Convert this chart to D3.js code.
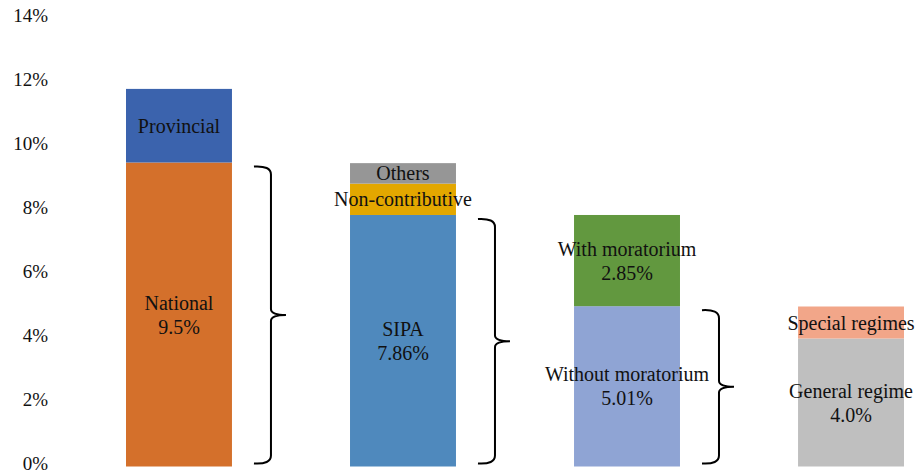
<!DOCTYPE html>
<html>
<head>
<meta charset="utf-8">
<script src="https://cdn.jsdelivr.net/npm/d3@7"></script>
<style>
  html, body { margin: 0; padding: 0; background: #fff; }
  svg text { font-family: "Liberation Serif", "Tinos", "DejaVu Serif", serif; fill: #111; }
</style>
</head>
<body>
<svg id="chart" width="915" height="474"></svg>
<script>
// Stacked bars: each bar breaks down the base segment of the previous one
const categories = ["Total", "National", "SIPA", "Pensions"];
const segmentNames = [
  ["National", "Provincial"],
  ["SIPA", "Non-contributive", "Others"],
  ["Without moratorium", "With moratorium"],
  ["General regime", "Special regimes"]
];
const segmentValues = [
  [9.5, 2.3],
  [7.86, 0.98, 0.64],
  [5.01, 2.85],
  [4.0, 1.0]
];
// Value text shown under a segment name ("" = name only)
const segmentValueText = [
  ["9.5%", ""],
  ["7.86%", "", ""],
  ["5.01%", "2.85%"],
  ["4.0%", ""]
];
const segmentColors = [
  ["#D4702B", "#3B63AD"],
  ["#4F89BD", "#E3A700", "#969696"],
  ["#8FA4D4", "#62983F"],
  ["#BFBFBF", "#F2A689"]
];
const yTicks = [0, 2, 4, 6, 8, 10, 12, 14];
const tickLabels = ["0%", "2%", "4%", "6%", "8%", "10%", "12%", "14%"];

const serif = "'Liberation Serif', Tinos, 'DejaVu Serif', serif";
const svg = d3.select("#chart");

const y = d3.scaleLinear().domain([0, 14]).range([466.5, 18.5]);
const x = d3.scaleBand().domain(categories).range([70, 960])
  .paddingInner(0.527).paddingOuter(0.25);

// Y axis: labels only, no line or ticks
const yAxis = d3.axisLeft(y).tickValues(yTicks).tickSize(0).tickPadding(0)
  .tickFormat((d, i) => tickLabels[i]);
const gAxis = svg.append("g").attr("transform", "translate(48,-4)").call(yAxis)
  .attr("font-family", serif).attr("font-size", 19);
gAxis.select(".domain").remove();
gAxis.selectAll("text")
  .attr("fill", "#111")
  .attr("dy", null).attr("dominant-baseline", "central");

// Flatten segments with cumulative bases
const segments = [];
categories.forEach((c, i) => {
  let base = 0;
  segmentValues[i].forEach((v, j) => {
    segments.push({
      cat: c, bar: i, idx: j, y0: base, y1: base + v,
      name: segmentNames[i][j], valueText: segmentValueText[i][j],
      color: segmentColors[i][j]
    });
    base += v;
  });
});

svg.append("g").selectAll("rect").data(segments).join("rect")
  .attr("x", d => x(d.cat))
  .attr("width", x.bandwidth())
  .attr("y", d => y(d.y1))
  .attr("height", d => y(d.y0) - y(d.y1))
  .attr("fill", d => d.color);

// Segment labels
const labels = svg.append("g").attr("font-family", serif)
  .attr("font-size", 20).attr("text-anchor", "middle");
segments.forEach(d => {
  const cx = x(d.cat) + x.bandwidth() / 2;
  const cy = y((d.y0 + d.y1) / 2);
  if (d.valueText) {
    labels.append("text").attr("x", cx).attr("y", cy - 12)
      .attr("dominant-baseline", "central").text(d.name);
    labels.append("text").attr("x", cx).attr("y", cy + 12)
      .attr("dominant-baseline", "central").text(d.valueText);
  } else {
    labels.append("text").attr("x", cx).attr("y", cy)
      .attr("dominant-baseline", "central").text(d.name);
  }
});

// Right-facing curly braces linking each base segment to the next bar
function bracePath(xl, xv, xt, yTop, yBot) {
  const yMid = (yTop + yBot) / 2;
  return `M${xl},${yTop} Q${xv},${yTop - 1} ${xv},${yTop + 8}` +
         ` L${xv},${yMid - 6} Q${xv},${yMid} ${xt},${yMid}` +
         ` Q${xv},${yMid} ${xv},${yMid + 6}` +
         ` L${xv},${yBot - 8} Q${xv},${yBot + 1} ${xl},${yBot}`;
}
const braceBars = [0, 1, 2];
svg.append("g").selectAll("path").data(braceBars).join("path")
  .attr("d", i => {
    const xr = x(categories[i]) + x.bandwidth();
    return bracePath(xr + 22, xr + 39, xr + 54,
      y(segmentValues[i][0]) + 4, y(0) - 3);
  })
  .attr("fill", "none")
  .attr("stroke", "#000")
  .attr("stroke-width", 2);
</script>
</body>
</html>
